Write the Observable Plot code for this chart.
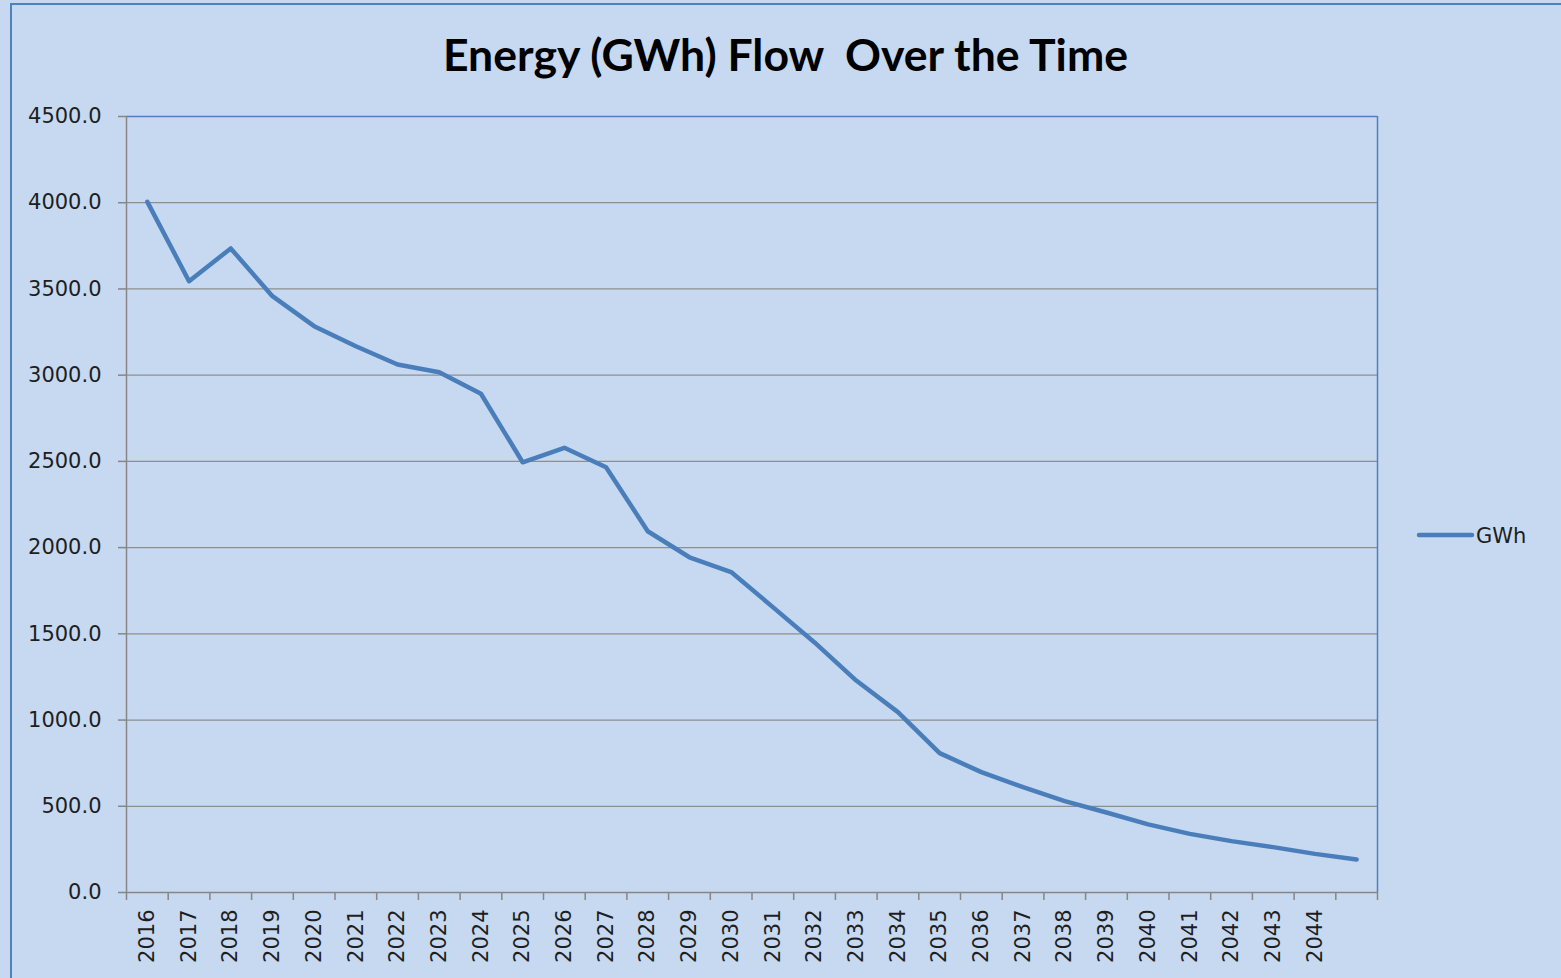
<!DOCTYPE html>
<html>
<head>
<meta charset="utf-8">
<script src="https://cdn.jsdelivr.net/npm/d3@7"></script>
<script src="https://cdn.jsdelivr.net/npm/@observablehq/plot@0.6"></script>
<style>
  html, body { margin: 0; padding: 0; overflow: hidden; background: #C6D9F0; }
  #wrap { position: relative; width: 1561px; height: 978px; background: #C6D9F0; }
  #frame { position: absolute; left: 10px; top: 3px; width: 1600px; height: 1000px;
           border-left: 2px solid #4F81BD; border-top: 2px solid #4F81BD; box-sizing: border-box; }
  #chart { position: absolute; left: 0; top: 0; }
  #title { position: absolute; left: 0; top: 0; }
  #legend { position: absolute; left: 1410px; top: 515px; }
</style>
</head>
<body>
<div id="wrap">
  <div id="frame"></div>
  <div id="chart"></div>
  <svg id="title" width="1561" height="100"></svg>
  <svg id="legend" width="151" height="40"></svg>
</div>
<script>
// ---- data ----
const titleText = "Energy (GWh) Flow  Over the Time";
const seriesName = "GWh";
const years = [2016, 2017, 2018, 2019, 2020, 2021, 2022, 2023, 2024, 2025,
               2026, 2027, 2028, 2029, 2030, 2031, 2032, 2033, 2034, 2035,
               2036, 2037, 2038, 2039, 2040, 2041, 2042, 2043, 2044, 2045];
const yearLabels = ["2016", "2017", "2018", "2019", "2020", "2021", "2022", "2023", "2024", "2025",
                    "2026", "2027", "2028", "2029", "2030", "2031", "2032", "2033", "2034", "2035",
                    "2036", "2037", "2038", "2039", "2040", "2041", "2042", "2043", "2044", ""];
const gwh = [4005, 3545, 3735, 3458, 3284, 3168, 3062, 3017, 2892, 2495,
             2579, 2466, 2095, 1944, 1858, 1655, 1450, 1229, 1046, 808,
             698, 611, 530, 464, 395, 340, 298, 263, 224, 191];
const yTicks = [0, 500, 1000, 1500, 2000, 2500, 3000, 3500, 4000, 4500];
const yTickLabels = ["0.0", "500.0", "1000.0", "1500.0", "2000.0", "2500.0", "3000.0", "3500.0", "4000.0", "4500.0"];

// ---- build ----
const data = years.map((y, i) => ({year: y, value: gwh[i]}));
const boundaries = [years[0] - 0.5, ...years.map(y => y + 0.5)];
const lineColor = "#4A7EBB";
const axisGray = "#868686";
const gridGray = "#8E8E8E";

const chart = Plot.plot({
  width: 1561,
  height: 978,
  marginLeft: 126,
  marginRight: 184,
  marginTop: 116,
  marginBottom: 86,
  style: {background: "transparent", fontFamily: "'DejaVu Sans', sans-serif", fontSize: "21px", color: "#1e1e1e"},
  x: {type: "linear", domain: [boundaries[0], boundaries[boundaries.length - 1]]},
  y: {type: "linear", domain: [0, 4500]},
  marks: [
    Plot.gridY(yTicks.slice(1, -1), {stroke: gridGray, strokeOpacity: 1, strokeWidth: 1.3}),
    Plot.ruleY([yTicks[yTicks.length - 1]], {stroke: "#4F81BD", strokeWidth: 1.5}),
    Plot.ruleX([boundaries[boundaries.length - 1]], {stroke: "#4F81BD", strokeWidth: 1.5}),
    Plot.ruleX([boundaries[0]], {stroke: axisGray, strokeWidth: 1.5}),
    Plot.ruleY([0], {stroke: axisGray, strokeWidth: 1.5}),
    Plot.axisY({ticks: yTicks, tickFormat: (d) => yTickLabels[yTicks.indexOf(d)],
                tickSize: 8, tickPadding: 17, stroke: axisGray, strokeWidth: 1.5, strokeOpacity: 1, label: null}),
    Plot.axisX({ticks: boundaries, tickFormat: () => "", tickSize: 8, stroke: axisGray, strokeWidth: 1.5, strokeOpacity: 1, label: null}),
    Plot.axisX({ticks: years, tickFormat: (d) => yearLabels[years.indexOf(d)], tickSize: 0,
                tickPadding: 17, tickRotate: -90, label: null}),
    Plot.line(data, {x: "year", y: "value", stroke: lineColor, strokeWidth: 4.5,
                     strokeLinejoin: "round", strokeLinecap: "round"})
  ]
});
document.getElementById("chart").appendChild(chart);

// title
const tsvg = d3.select("#title");
tsvg.append("text")
  .attr("x", 785.5).attr("y", 71)
  .attr("text-anchor", "middle")
  .attr("font-family", "Lato, 'Open Sans', sans-serif")
  .attr("font-weight", "bold")
  .attr("font-size", 43)
  .attr("textLength", 685)
  .attr("lengthAdjust", "spacingAndGlyphs")
  .attr("xml:space", "preserve")
  .style("white-space", "pre")
  .attr("fill", "#000")
  .text(titleText);

// legend
const lsvg = d3.select("#legend");
lsvg.append("line").attr("x1", 9).attr("x2", 62).attr("y1", 20).attr("y2", 20)
  .attr("stroke", lineColor).attr("stroke-width", 4.5).attr("stroke-linecap", "round");
lsvg.append("text").attr("x", 66).attr("y", 20).attr("dy", "0.36em")
  .attr("font-family", "'DejaVu Sans', sans-serif").attr("font-size", 21).attr("fill", "#1e1e1e")
  .text(seriesName);
</script>
</body>
</html>
